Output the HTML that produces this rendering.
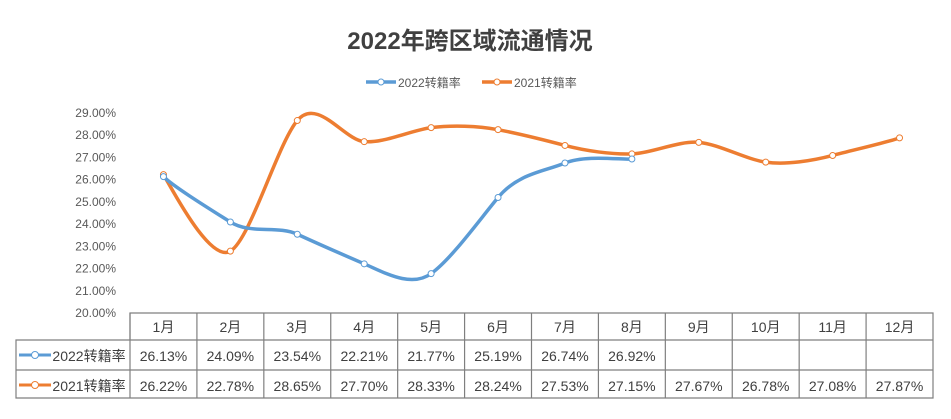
<!DOCTYPE html>
<html><head><meta charset="utf-8"><style>
body{margin:0;background:#fff;width:951px;height:414px;overflow:hidden}
svg text{font-family:"Liberation Sans","Noto Sans CJK SC",sans-serif}
</style></head><body>
<svg id="s" width="951" height="414" xmlns="http://www.w3.org/2000/svg">
<text x="470" y="49" text-anchor="middle" font-size="24" font-weight="bold" fill="#404040">2022年跨区域流通情况</text>
<line x1="366" y1="82" x2="396" y2="82" stroke="#5b9bd5" stroke-width="3.5"/><circle cx="381" cy="82" r="3" fill="#fff" stroke="#5b9bd5"/>
<text x="398" y="87" font-size="12" fill="#595959">2022转籍率</text>
<line x1="482" y1="82" x2="512" y2="82" stroke="#ed7d31" stroke-width="3.5"/><circle cx="497" cy="82" r="3" fill="#fff" stroke="#ed7d31"/>
<text x="514" y="87" font-size="12" fill="#595959">2021转籍率</text>
<g id="yl" font-size="12" fill="#595959" text-anchor="end"></g>
<g id="tb" stroke="#7f7f7f" stroke-width="1.2" fill="none"></g>
<g id="tt" font-size="14" fill="#404040" text-anchor="middle"></g>
<g id="ln"></g>
</svg>
<script>
const NS="http://www.w3.org/2000/svg";
function el(p,t,a,txt){const e=document.createElementNS(NS,t);for(const k in a)e.setAttribute(k,a[k]);if(txt!==undefined)e.textContent=txt;document.getElementById(p).appendChild(e);return e;}
const y0=313,k=22.25,L=130,R=933,cw=(R-L)/12;
for(let v=20;v<=29;v++)el("yl","text",{x:116,y:y0-(v-20)*k+4},v.toFixed(2)+"%");
const a=[26.13,24.09,23.54,22.21,21.77,25.19,26.74,26.92];
const b=[26.22,22.78,28.65,27.70,28.33,28.24,27.53,27.15,27.67,26.78,27.08,27.87];
el("tb","path",{d:`M${L} ${y0}H${R}V398H16V340H${L}ZM16 370H${R}M${L} 340H${R}`});
for(let i=1;i<12;i++)el("tb","line",{x1:L+i*cw,y1:y0,x2:L+i*cw,y2:398});
el("tb","line",{x1:L,y1:y0,x2:L,y2:398});
for(let i=0;i<12;i++){const cx=L+cw*(i+.5);
el("tt","text",{x:cx,y:332},(i+1)+"月");
if(i<8)el("tt","text",{x:cx,y:361},a[i].toFixed(2)+"%");
el("tt","text",{x:cx,y:391},b[i].toFixed(2)+"%");}
el("tt","text",{x:89,y:361},"2022转籍率");
el("tt","text",{x:89,y:391},"2021转籍率");
el("ln","line",{x1:19,y1:355,x2:51,y2:355,stroke:"#5b9bd5","stroke-width":3});
el("ln","circle",{cx:35,cy:355,r:3.5,fill:"#fff",stroke:"#5b9bd5"});
el("ln","line",{x1:19,y1:385,x2:51,y2:385,stroke:"#ed7d31","stroke-width":3});
el("ln","circle",{cx:35,cy:385,r:3.5,fill:"#fff",stroke:"#ed7d31"});
function path(d,c){const p=d.map((v,i)=>[L+cw*(i+.5),y0-(v-20)*k]);
let s=`M${p[0][0]} ${p[0][1]}`;const t=0.22;
for(let i=0;i<p.length-1;i++){const p0=p[i-1]||p[i],p1=p[i],p2=p[i+1],p3=p[i+2]||p2;
s+=`C${p1[0]+(p2[0]-p0[0])*0.15} ${p1[1]+(p2[1]-p0[1])*t} ${p2[0]-(p3[0]-p1[0])*0.15} ${p2[1]-(p3[1]-p1[1])*t} ${p2[0]} ${p2[1]}`;}
el("ln","path",{d:s,fill:"none",stroke:c,"stroke-width":3.5});
p.forEach(q=>el("ln","circle",{cx:q[0],cy:q[1],r:3,fill:"#fff",stroke:c,"stroke-width":1}));}
path(b,"#ed7d31");path(a,"#5b9bd5");
</script>
</body></html>
